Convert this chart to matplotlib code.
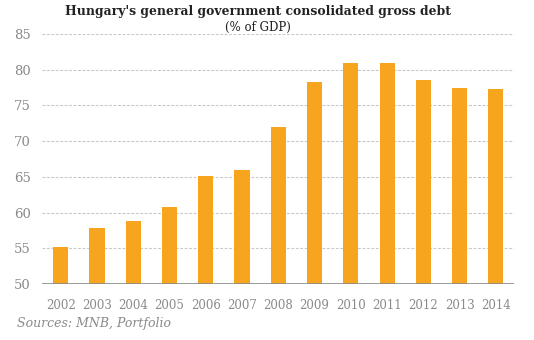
import matplotlib.pyplot as plt

years = ['2002', '2003', '2004', '2005', '2006', '2007', '2008',
         '2009', '2010', '2011', '2012', '2013', '2014']
debt = [55.2, 57.8, 58.8, 60.8, 65.1, 66.0, 72.0, 78.3, 81.0, 81.0, 78.5, 77.4, 77.3]
yticks = [50, 55, 60, 65, 70, 75, 80, 85]

W, H = 534, 340
fig = plt.figure(figsize=(W / 100, H / 100), dpi=100)
ax = fig.add_axes([42 / W, (H - 284) / H, (514 - 42) / W, 250 / H])

x = range(len(years))
ax.bar(x, [d - 50 for d in debt], bottom=50, width=0.42, color='#F7A51E', zorder=3)

ax.set_ylim(50, 85)
ax.set_xlim(-0.52, len(years) - 0.5)
ax.set_yticks(yticks)
ax.set_yticklabels([str(t) for t in yticks], family='DejaVu Serif', fontsize=9.5, color='#8a8a8a')
ax.set_xticks(list(x))
ax.set_xticklabels(years, family='DejaVu Serif', fontsize=8.5, color='#8a8a8a')
ax.tick_params(axis='both', length=0)
ax.tick_params(axis='x', pad=11)
ax.tick_params(axis='y', pad=8)

for t in yticks[1:]:
    ax.axhline(t, color='#c8c8c8', lw=0.8, ls=(0, (2.5, 1.5)), zorder=1)
ax.axhline(50, color='#8a8a8a', lw=1.2, zorder=4)

for s in ax.spines.values():
    s.set_visible(False)

fig.text(258 / W, 1 - 12 / H, "Hungary's general government consolidated gross debt",
         ha='center', va='center', family='DejaVu Serif', fontweight='bold',
         fontsize=8.9, color='#222222')
fig.text(258 / W, 1 - 27 / H, '(% of GDP)', ha='center', va='center',
         family='DejaVu Serif', fontsize=8.5, color='#222222')
fig.text(17 / W, 1 - 323 / H, 'Sources: MNB, Portfolio', ha='left', va='center',
         family='DejaVu Serif', style='italic', fontsize=9, color='#8a8a8a')

fig.savefig('out.png', dpi=100)
